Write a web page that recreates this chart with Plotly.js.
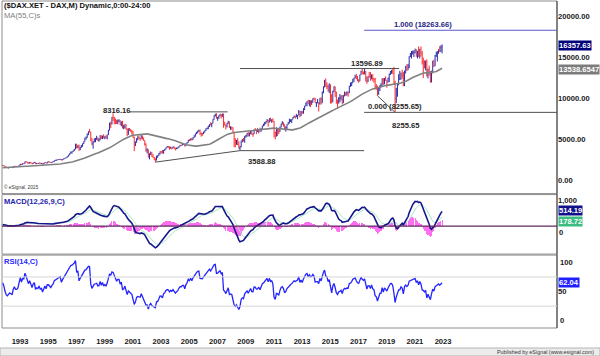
<!DOCTYPE html>
<html><head><meta charset="utf-8">
<script src="https://cdn.plot.ly/plotly-3.0.1.min.js"></script>
<style>html,body{margin:0;padding:0;background:#fff;}#chart{width:600px;height:356px;}</style>
</head><body><div id="chart"></div>
<script>
// ---- DATA (monthly DAX) ----
const firstYear = 1988;            // close series starts Jan 1988 (warm-up for indicators)
const close = [
 940,1010,1000,1040,1050,1140,1190,1130,1190,1230,1210,1328,
 1350,1330,1350,1400,1420,1520,1590,1620,1640,1430,1550,1790,
 1850,1840,1960,1880,1980,1950,1880,1550,1380,1440,1390,1398,
 1350,1500,1550,1620,1640,1550,1610,1640,1590,1590,1540,1578,
 1690,1730,1710,1730,1780,1730,1620,1530,1500,1530,1560,1545,
 1520,1630,1690,1640,1640,1670,1820,1960,1880,2010,2000,2267,
 2200,2090,2040,2160,2080,1990,2110,2170,1980,2040,2020,2107,
 2020,2040,1940,2070,2140,2060,2210,2210,2180,2140,2210,2254,
 2380,2420,2470,2480,2510,2540,2440,2530,2620,2680,2780,2889,
 3050,3240,3420,3460,3580,3760,4350,3980,4170,3750,3990,4250,
 4440,4710,5100,5180,5550,5900,5880,4850,4470,4670,4960,5002,
 5060,4860,4880,5350,5070,5380,5120,5270,5150,5520,6100,6958,
 6840,7640,7600,7410,7110,6900,7190,7190,6800,7080,6370,6434,
 6800,6210,5830,6260,6120,6060,5860,5190,4310,4560,5040,5160,
 5110,5040,5400,5040,4820,4380,3700,3710,2770,3150,3320,2893,
 2750,2550,2420,2940,2980,3220,3490,3480,3260,3650,3750,3965,
 4060,4020,3860,3990,3920,4050,3900,3790,3890,3960,4130,4256,
 4250,4350,4350,4180,4460,4590,4890,4830,5040,4930,5190,5408,
 5670,5800,5970,6010,5690,5680,5680,5860,6000,6270,6310,6597,
 6790,6720,6920,7410,7880,8010,7580,7640,7860,8020,7870,8067,
 6850,6750,6530,6950,7100,6420,6480,6420,5830,4990,4670,4810,
 4340,3843,4085,4770,4940,4810,5330,5460,5680,5410,5630,5957,
 5610,5600,6150,6140,5960,5970,6150,5930,6230,6600,6690,6914,
 7080,7270,7040,7510,7290,7380,7160,5780,5500,6140,6090,5898,
 6460,6860,6950,6760,6260,6420,6770,6970,7220,7260,7410,7612,
 7780,7740,7800,7910,8350,7960,8280,8100,8590,9030,9410,9552,
 9310,9690,9560,9600,9940,9830,9410,9470,9470,9330,9980,9806,
 10690,11400,11970,11450,11410,10940,11310,10260,9660,10850,11380,10743,
 9800,9500,9970,10040,10260,9680,10340,10590,10510,10670,10640,11481,
 11540,11830,12310,12440,12620,12330,12120,12060,12830,13230,13020,12918,
 13190,12440,12100,12610,12600,12310,12810,12360,12250,11450,11260,10559,
 11170,11520,11530,12340,11730,12400,12190,11940,12430,12870,13240,13249,
 12980,11890,9940,10860,11590,12310,12310,12950,12760,11560,13290,13719,
 13430,13790,15010,15140,15420,15530,15540,15840,15260,15690,15100,15885,
 15470,14460,14410,14100,14390,12780,13480,12830,12110,13250,14400,13924,
 15130,15370,15630,15920,15660,16150,16357.63
];
const barsFrom = 52;                // first drawn bar: May 1992 (index in close)
const high = [
 1815,1800,1740,1630,1590,1570,1590,1590,
 1580,1650,1720,1700,1680,1700,1830,1980,1970,2040,2050,2270,
 2280,2220,2140,2190,2200,2100,2130,2200,2170,2080,2080,2120,
 2110,2080,2040,2080,2170,2160,2230,2260,2250,2190,2230,2290,
 2400,2470,2480,2510,2540,2580,2560,2540,2640,2700,2790,2900,
 3070,3270,3480,3470,3620,3800,4440,4420,4240,4330,4080,4270,
 4460,4720,5150,5320,5680,5950,6220,5900,5150,4750,5080,5140,
 5400,5200,5100,5480,5450,5420,5580,5350,5450,5530,6120,6990,
 7130,7690,8136,7700,7500,7350,7380,7420,7300,7150,7220,6750,
 6800,6800,6300,6300,6350,6200,6100,5950,5300,4720,5100,5350,
 5460,5160,5470,5420,5200,4850,4480,3880,3720,3250,3480,3400,
 3160,2800,2720,2960,3010,3300,3500,3520,3680,3660,3800,3970,
 4160,4160,4100,4070,3990,4100,4080,3930,3960,3990,4150,4280,
 4300,4380,4430,4400,4470,4630,4900,4990,5060,5150,5220,5460,
 5680,5880,6020,6140,6160,5800,5750,5900,6050,6300,6400,6620,
 6800,7040,6970,7430,7900,8090,8151,7700,7870,8060,8030,8100,
 8100,7120,6760,6970,7230,7150,6550,6500,6430,5880,5100,4900,
 5110,4730,4150,4800,5000,5140,5360,5500,5750,5890,5800,6030,
 6100,5700,6170,6340,6200,6330,6200,6390,6300,6650,6880,7080,
 7180,7440,7330,7530,7600,7390,7520,7210,5900,6430,6350,6270,
 6530,6880,7190,7040,6780,6530,6800,7080,7480,7420,7430,7680,
 7870,7830,8070,7920,8560,8420,8450,8420,8770,9050,9420,9600,
 9790,9740,9720,9720,9950,10050,10030,9500,9890,9470,9990,10090,
 10810,11410,12220,12390,11920,11640,11800,11670,10480,10880,11430,11400,
 10760,9800,10110,10490,10330,10350,10350,10800,10720,10830,10800,11490,
 11890,11960,12310,12480,12840,12950,12680,12300,12850,13340,13530,13240,
 13597,13300,12640,12650,13200,13170,12890,12880,12460,12460,11700,11500,
 11240,11550,11820,12400,12440,12440,12660,12190,12490,12990,13290,13430,
 13640,13800,12110,11230,11700,12910,13310,13100,13460,13170,13340,13920,
 14130,14170,15100,15500,15730,15800,15810,16030,15950,15760,16290,16000,
 16285,15740,14930,14600,14580,14720,13590,13950,13300,13330,14550,14680,
 15270,15660,15710,15920,16330,16430,16530
];
const low = [
 1720,1710,1600,1500,1460,1420,1500,1520,
 1500,1510,1620,1620,1610,1630,1660,1810,1850,1880,1960,1990,
 2150,2050,2000,2030,2060,1940,1970,2090,1960,1960,2000,1990,
 1990,1980,1910,1930,2060,2050,2050,2180,2150,2100,2120,2190,
 2250,2370,2370,2440,2450,2500,2390,2430,2520,2600,2670,2740,
 2870,3030,3220,3220,3430,3560,3750,3850,3890,3560,3650,3940,
 4050,4400,4700,4930,5150,5480,5800,4750,4250,3830,4600,4620,
 4900,4770,4680,4870,5000,5000,5100,4980,5070,4980,5500,6050,
 6340,6780,7200,6800,6800,6850,6800,7050,6700,6550,6300,6200,
 6300,6150,5350,5500,6000,5850,5550,5150,3540,4150,4550,4850,
 4980,4800,5040,4950,4800,4200,3450,3250,2760,2520,3050,2850,
 2700,2440,2188,2400,2720,2950,3120,3260,3230,3230,3560,3740,
 3960,3950,3690,3850,3730,3860,3800,3620,3780,3830,3950,4110,
 4150,4240,4300,4100,4150,4440,4570,4750,4830,4830,4910,5160,
 5290,5590,5700,5880,5500,5290,5400,5600,5800,5990,6180,6210,
 6470,6660,6440,6900,7370,7740,7480,7230,7450,7750,7510,7700,
 6380,6640,6170,6430,6860,6360,6100,6130,5780,4010,4010,4300,
 4240,3830,3589,3980,4600,4700,4550,5150,5280,5340,5310,5600,
 5540,5280,5590,6060,5600,5860,5700,5910,5910,6190,6580,6680,
 6850,7050,6510,7040,7150,6990,7050,5210,4960,5290,5370,5610,
 5880,6420,6770,6520,6080,5910,6150,6760,6900,7090,6950,7400,
 7600,7500,7660,7420,7890,7650,7800,8100,8100,8530,9000,9010,
 9300,9000,8900,9170,9420,9750,9400,8900,9350,8350,9200,9220,
 9380,10580,11300,11380,11100,10790,10600,9340,9330,9480,10700,10120,
 9310,8700,9320,9480,9720,9210,9370,10200,10260,10300,10170,10610,
 11370,11450,11830,11940,12400,12310,12050,11870,12050,12830,12890,12860,
 12900,12000,11730,11950,12500,12100,12300,12050,11860,11050,11010,10279,
 10390,10860,11290,11520,11620,11680,12100,11270,11900,11940,12820,12950,
 12950,11720,8256,9380,10160,11560,12200,12250,12340,11450,11450,13000,
 13310,13430,13650,15000,14820,15300,15000,15450,15020,14820,15010,14820,
 15060,14090,12440,13630,13380,12620,12390,12750,11860,11900,13000,13790,
 13900,15020,14460,15400,15630,15630,15450
];
const yearTicks = ['1993','1995','1997','1999','2001','2003','2005','2007','2009','2011','2013','2015','2017','2019','2021','2023'];
const priceTicks = [0,5000,10000,15000,20000];
const macdTicks = [1000];
const rsiGrid = [70,30];
// chart drawing levels
const high2000 = 8316.16, low2003 = 2188, low2009 = 3588.88, high2018 = 13596.89, low2018 = 10279;
const fibLow = 8255.65, fibHigh = 18263.66;
const lastValues = {price:'16357.63', ma:'13538.6547', macd:'514.19', signal:'178.72', rsi:'62.04'};

// ---- indicators ----
function monthDate(i){const y=firstYear+Math.floor(i/12),m=i%12+1;return y+'-'+String(m).padStart(2,'0')+'-01';}
const dates = close.map((_,i)=>monthDate(i));
function sma(a,n){return a.map((v,i)=>{const s=Math.max(0,i-n+1);let t=0;for(let k=s;k<=i;k++)t+=a[k];return t/(i-s+1);});}
function ema(a,n){const k=2/(n+1);let e=a[0];return a.map((v,i)=>(e=i===0?v:k*v+(1-k)*e));}
function rsi(a,n){const out=[null];let ag=0,al=0;for(let i=1;i<a.length;i++){const ch=a[i]-a[i-1],g=Math.max(ch,0),l=Math.max(-ch,0);
 if(i<=n){ag+=g/n;al+=l/n;out.push(i===n?100-100/(1+ag/al):null);}else{ag=(ag*(n-1)+g)/n;al=(al*(n-1)+l)/n;out.push(100-100/(1+ag/al));}}return out;}
const ma55 = sma(close,55);
const e12 = ema(close,12), e26 = ema(close,26);
const macd = e12.map((v,i)=>v-e26[i]);
const signal = ema(macd,9);
const hist = macd.map((v,i)=>v-signal[i]);
const rsi14 = rsi(close,14);

const vis = a=>a.slice(barsFrom);
const vDates = vis(dates);
const vClose = vis(close);
const vOpen = vClose.map((_,i)=>close[barsFrom+i-1]);

const FONT='Liberation Sans, Arial, sans-serif';
const traces=[
 {type:'ohlc',x:vDates,open:vOpen,high:high,low:low,close:vClose,xaxis:'x',yaxis:'y',
  increasing:{line:{color:'#2a2aa8',width:1}},decreasing:{line:{color:'#ff2828',width:1}},tickwidth:0.3,hoverinfo:'skip'},
 {type:'scatter',mode:'lines',x:vDates,y:vis(ma55),xaxis:'x',yaxis:'y',line:{color:'#808080',width:1.6},hoverinfo:'skip'},
 {type:'bar',x:vDates,y:vis(hist),xaxis:'x',yaxis:'y2',marker:{color:'#ff6ef0',line:{width:0}},hoverinfo:'skip'},
 {type:'scatter',mode:'lines',x:vDates,y:vis(signal),xaxis:'x',yaxis:'y2',line:{color:'#a6e6c6',width:1},hoverinfo:'skip'},
 {type:'scatter',mode:'lines',x:vDates,y:vis(macd),xaxis:'x',yaxis:'y2',line:{color:'#16168c',width:1.6},hoverinfo:'skip'},
 {type:'scatter',mode:'lines',x:vDates,y:vis(rsi14),xaxis:'x',yaxis:'y3',line:{color:'#2424ff',width:1.3},hoverinfo:'skip'}
];
const xEnd='2031-08-25';
const pY = py => (328-py)/327;      // pixel row -> paper y
const gray='#505050';
const shapes=[
 {type:'rect',xref:'paper',yref:'paper',x0:0,x1:1,y0:0.411,y1:1,line:{color:'#8c8c8c',width:1}},
 {type:'rect',xref:'paper',yref:'paper',x0:0,x1:1,y0:0.226,y1:0.408,line:{color:'#8c8c8c',width:1}},
 {type:'rect',xref:'paper',yref:'paper',x0:0,x1:1,y0:0,y1:0.223,line:{color:'#8c8c8c',width:1}},
 {type:'line',xref:'paper',yref:'paper',x0:1,x1:1,y0:0,y1:1,line:{color:'#404040',width:1}},
 {type:'line',xref:'paper',yref:'y2',x0:0,x1:1,y0:0,y1:0,line:{color:'#5e2a5e',width:1.3}},
 ...rsiGrid.map(v=>({type:'line',xref:'paper',yref:'y3',x0:0,x1:1,y0:v,y1:v,line:{color:'#d6d6d6',width:1}})),
 {type:'line',xref:'x',yref:'y',x0:'2001-05-01',x1:'2008-04-15',y0:high2000,y1:high2000,line:{color:gray,width:1}},
 {type:'line',xref:'x',yref:'y',x0:'2003-03-01',x1:'2009-03-01',y0:low2003,y1:low2009,line:{color:gray,width:1}},
 {type:'line',xref:'x',yref:'y',x0:'2009-03-01',x1:'2017-12-20',y0:low2009,y1:low2009,line:{color:gray,width:1}},
 {type:'line',xref:'x',yref:'y',x0:'2009-03-01',x1:'2020-06-15',y0:high2018,y1:high2018,line:{color:gray,width:1}},
 {type:'line',xref:'x',yref:'y',x0:'2018-12-01',x1:'2020-03-01',y0:low2018,y1:fibLow,line:{color:gray,width:1}},
 {type:'line',xref:'x',yref:'y',x0:'2017-12-20',x1:xEnd,y0:fibLow,y1:fibLow,line:{color:gray,width:1}},
 {type:'line',xref:'x',yref:'y',x0:'2017-12-20',x1:xEnd,y0:fibHigh,y1:fibHigh,line:{color:'#5a5ad0',width:1}},
 {type:'rect',xref:'paper',yref:'paper',x0:-0.0036,x1:1.0775,y0:-0.0856,y1:-0.0612,fillcolor:'#ececec',line:{color:'#b4b4b4',width:1},layer:'below'}
];
const f=(size,color,weight)=>({family:FONT,size:size,color:color,weight:weight||'bold'});
const sz=7.6;
const tag=(y,yref,text,bg,ys)=>({xref:'paper',yref:yref,x:1,y:y,xanchor:'left',yanchor:'middle',text:text,showarrow:false,
 bgcolor:bg,borderpad:0,font:f(sz,'#ffffff'),xshift:0.5,yshift:ys||0});
const annotations=[
 {xref:'paper',yref:'paper',x:0,y:pY(6),xanchor:'left',yanchor:'middle',showarrow:false,text:'($DAX.XET - DAX,M) Dynamic,0:00-24:00',font:f(sz,'#111111')},
 {xref:'paper',yref:'paper',x:0,y:pY(15),xanchor:'left',yanchor:'middle',showarrow:false,text:'MA(55,C)s',font:f(sz,'#808080','normal')},
 {xref:'paper',yref:'paper',x:0,y:pY(187),xanchor:'left',yanchor:'middle',showarrow:false,text:'© eSignal, 2015',font:f(4.8,'#333333','normal')},
 {xref:'paper',yref:'paper',x:0,y:pY(201.7),xanchor:'left',yanchor:'middle',showarrow:false,text:'MACD(12,26,9,C)',font:f(sz,'#2626b0')},
 {xref:'paper',yref:'paper',x:0,y:pY(261),xanchor:'left',yanchor:'middle',showarrow:false,text:'RSI(14,C)',font:f(sz,'#2a2aff')},
 {xref:'paper',yref:'paper',x:1.0703,y:pY(351.7),xanchor:'right',yanchor:'middle',showarrow:false,text:'Published by eSignal (www.esignal.com)',font:f(5.4,'#333333','normal')},
 {xref:'x',yref:'y',x:'2022-02-20',y:fibHigh,xanchor:'center',yanchor:'bottom',showarrow:false,text:'1.000 (18263.66)',font:f(sz,'#262680'),borderpad:0},
 {xref:'x',yref:'y',x:'2018-03-01',y:fibLow,xanchor:'left',yanchor:'bottom',showarrow:false,text:'0.000 (8255.65)',font:f(sz,'#262626'),borderpad:0},
 {xref:'x',yref:'y',x:'2020-12-01',y:fibLow,xanchor:'center',yanchor:'top',yshift:-7,showarrow:false,text:'8255.65',font:f(sz,'#262626')},
 {xref:'x',yref:'y',x:'2010-09-15',y:low2009,xanchor:'center',yanchor:'top',yshift:-4,showarrow:false,text:'3588.88',font:f(sz,'#262626')},
 {xref:'x',yref:'y',x:'2000-05-25',y:high2000,xanchor:'center',yanchor:'middle',yshift:1,showarrow:false,text:'8316.16',font:f(sz,'#262626')},
 {xref:'x',yref:'y',x:'2018-02-20',y:high2018,xanchor:'center',yanchor:'bottom',showarrow:false,text:'13596.89',font:f(sz,'#262626'),borderpad:0},
 {xref:'paper',yref:'y2',x:1,y:0,xanchor:'left',yanchor:'top',yshift:-1,xshift:1,showarrow:false,text:'0',font:f(sz,'#1a1a1a'),borderpad:0},
 {xref:'paper',yref:'y3',x:1,y:100,xanchor:'left',yanchor:'top',yshift:-1,xshift:1,showarrow:false,text:'100',font:f(sz,'#1a1a1a')},
 {xref:'paper',yref:'y3',x:1,y:0,xanchor:'left',yanchor:'bottom',yshift:1,xshift:1,showarrow:false,text:'0',font:f(sz,'#1a1a1a')},
 tag(16357.63,'y',lastValues.price,'#00007a'),
 tag(13538.6547,'y',lastValues.ma,'#7c7c7c'),
 tag(514.19,'y2',lastValues.macd,'#10108a',2.5),
 tag(178.72,'y2',lastValues.signal,'#3cbc80',0),
 tag(62.04,'y3',lastValues.rsi,'#2020ff')
];
const yCommon={side:'right',showgrid:false,zeroline:false,ticks:'',showline:false,fixedrange:true,tickfont:f(sz,'#1a1a1a')};
const layout={
 width:600,height:356,margin:{l:2,r:43,t:1,b:28},paper_bgcolor:'#ffffff',plot_bgcolor:'#ffffff',
 showlegend:false,bargap:0,hovermode:false,font:{family:FONT,size:sz,color:'#1a1a1a'},
 xaxis:{type:'date',range:['1992-04-15',xEnd],anchor:'y3',showgrid:false,zeroline:false,rangeslider:{visible:false},
  tickvals:yearTicks.map(y=>y+'-01-01'),ticktext:yearTicks,ticks:'outside',ticklen:6,tickcolor:'rgba(0,0,0,0)',
  ticklabelshift:8,tickfont:f(sz,'#1a1a1a'),showline:false,fixedrange:true},
 yaxis:Object.assign({domain:[0.411,1],range:[-1646,21829],tickvals:priceTicks,tickformat:'.2f'},yCommon),
 yaxis2:Object.assign({domain:[0.226,0.408],range:[-1077,1211],tickvals:macdTicks,tickformat:',.0f'},yCommon),
 yaxis3:Object.assign({domain:[0,0.223],range:[0,100],tickvals:[50]},yCommon),
 shapes:shapes,annotations:annotations
};
Plotly.newPlot('chart',traces,layout,{staticPlot:true,displayModeBar:false});
</script></body></html>
